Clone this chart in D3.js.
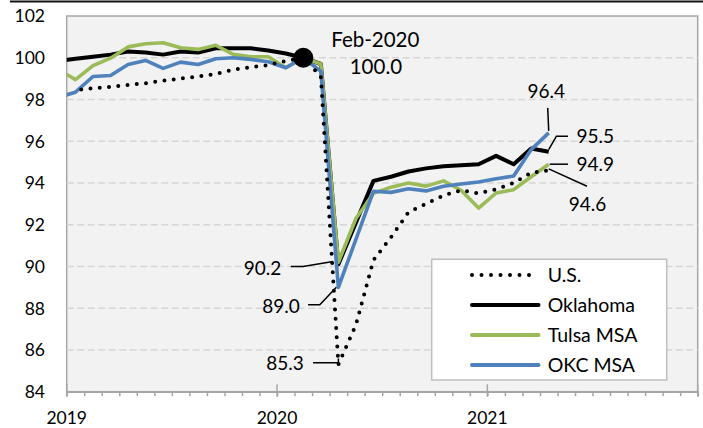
<!DOCTYPE html>
<html>
<head>
<meta charset="utf-8">
<script src="https://cdn.jsdelivr.net/npm/d3@7"></script>
<style>
  html, body { margin: 0; padding: 0; background: #ffffff; }
  svg { display: block; font-family: Lato, "Open Sans", sans-serif; }
</style>
</head>
<body>
<svg id="chart" width="703" height="428"></svg>
<script>
// ---------- DATA ----------
// monthly observations, Dec 2018 .. Apr 2021 (index Feb 2020 = 100)
const months = ["2018-12",
  "2019-01","2019-02","2019-03","2019-04","2019-05","2019-06","2019-07","2019-08","2019-09","2019-10","2019-11","2019-12",
  "2020-01","2020-02","2020-03","2020-04","2020-05","2020-06","2020-07","2020-08","2020-09","2020-10","2020-11","2020-12",
  "2021-01","2021-02","2021-03","2021-04"];
const usValues = [null,
  98.45, 98.54, 98.61, 98.70, 98.78, 98.90, 99.00, 99.10, 99.22, 99.43, 99.55, 99.65,
  99.85, 100.0, 99.10, 85.3, 87.2, 90.3, 91.4, 92.6, 93.0, 93.4, 93.65, 93.5,
  93.7, 94.0, 94.5, 94.6];
const oklahomaValues = [99.85,
  99.95, 100.05, 100.15, 100.30, 100.25, 100.15, 100.30, 100.25, 100.45, 100.45, 100.45, 100.35,
  100.2, 100.0, 99.7, 90.1, 92.1, 94.1, 94.3, 94.55, 94.7, 94.8, 94.85, 94.9,
  95.3, 94.9, 95.65, 95.5];
const tulsaValues = [99.45,
  98.95, 99.62, 99.98, 100.52, 100.67, 100.72, 100.48, 100.40, 100.60, 100.16, 100.05, 100.05,
  99.52, 100.0, 99.7, 90.2, 92.3, 93.5, 93.8, 94.0, 93.85, 94.1, 93.65, 92.8,
  93.52, 93.68, 94.3, 94.9];
const okcValues = [98.1,
  98.35, 99.10, 99.15, 99.68, 99.87, 99.49, 99.79, 99.68, 99.95, 100.0, 99.92, 99.81,
  99.52, 100.0, 99.35, 89.0, 91.3, 93.6, 93.55, 93.72, 93.62, 93.84, 93.95, 94.05,
  94.2, 94.33, 95.6, 96.4];
const seriesNames = ["U.S.", "Oklahoma", "Tulsa MSA", "OKC MSA"];
const yTicks = [84, 86, 88, 90, 92, 94, 96, 98, 100, 102];
const yearLabels = ["2019", "2020", "2021"];
const peakLabel = ["Feb-2020", "100.0"];
const peakMonth = "2020-02";
// value labels: [series, month, text]
const valueLabels = [
  ["OKC MSA", "2021-04", "96.4"],
  ["Oklahoma", "2021-04", "95.5"],
  ["Tulsa MSA", "2021-04", "94.9"],
  ["U.S.", "2021-04", "94.6"],
  ["Tulsa MSA", "2020-04", "90.2"],
  ["OKC MSA", "2020-04", "89.0"],
  ["U.S.", "2020-04", "85.3"]
];

// ---------- LAYOUT ----------
const W = 703, H = 428;
const plot = { left: 66.7, right: 697.7, top: 16, bottom: 391.7 };
const svg = d3.select("#chart");

const monthIndex = m => { const [y, mo] = m.split("-").map(Number); return (y - 2019) * 12 + (mo - 1); };
const x = d3.scaleLinear().domain([0, 36]).range([plot.left, plot.right]);
const y = d3.scaleLinear().domain([84, 102]).range([plot.bottom, plot.top]);
const xm = m => x(monthIndex(m) + 0.5);

const series = [
  { name: "U.S.", values: usValues, color: "#000000", width: 4, dotted: true },
  { name: "Oklahoma", values: oklahomaValues, color: "#000000", width: 4, dotted: false },
  { name: "Tulsa MSA", values: tulsaValues, color: "#9bbb59", width: 3.6, dotted: false },
  { name: "OKC MSA", values: okcValues, color: "#4f81bd", width: 3.6, dotted: false }
];
const byName = Object.fromEntries(series.map(s => [s.name, s]));

// top rule
svg.append("line").attr("x1", 10).attr("x2", W).attr("y1", 1.5).attr("y2", 1.5)
  .attr("stroke", "#141414").attr("stroke-width", 2);

// plot background
svg.append("rect").attr("x", plot.left).attr("y", plot.top)
  .attr("width", plot.right - plot.left).attr("height", plot.bottom - plot.top)
  .attr("fill", "#f2f2f2").attr("stroke", "#a6a6a6").attr("stroke-width", 1.5);

// gridlines
svg.append("g").selectAll("line").data(yTicks.filter(v => v > 84 && v < 102)).join("line")
  .attr("x1", plot.left).attr("x2", plot.right)
  .attr("y1", d => y(d)).attr("y2", d => y(d))
  .attr("stroke", "#d6d6d6").attr("stroke-width", 1.5).attr("stroke-dasharray", "7,3.5");

// y labels
svg.append("g").selectAll("text").data(yTicks).join("text")
  .attr("x", 45).attr("y", d => y(d)).attr("dy", "0.36em")
  .attr("text-anchor", "end").attr("font-size", 17.5).attr("fill", "#000")
  .text(d => d);

// x axis: minor monthly ticks
const axisG = svg.append("g").attr("transform", `translate(0,${plot.bottom})`);
axisG.call(d3.axisBottom(x).tickValues(d3.range(0, 37)).tickSize(4.5).tickFormat(""));
axisG.select(".domain").attr("stroke", "#a6a6a6").attr("stroke-width", 1.8);
axisG.selectAll(".tick line").attr("stroke", "#a6a6a6").attr("stroke-width", 1.5);
// major year ticks
svg.append("g").selectAll("line").data([0, 12, 24, 36]).join("line")
  .attr("x1", d => x(d)).attr("x2", d => x(d))
  .attr("y1", plot.bottom - 7.5).attr("y2", plot.bottom + 5)
  .attr("stroke", "#a6a6a6").attr("stroke-width", 1.5);
svg.append("g").selectAll("text").data(yearLabels).join("text")
  .attr("x", (d, i) => x(i * 12)).attr("y", 418).attr("dy", "0.36em")
  .attr("text-anchor", "middle").attr("font-size", 17.5).attr("fill", "#000")
  .text(d => d);

// clip
svg.append("clipPath").attr("id", "clip").append("rect")
  .attr("x", plot.left).attr("y", plot.top - 12)
  .attr("width", plot.right - plot.left).attr("height", plot.bottom - plot.top + 12);

const line = d3.line()
  .defined(d => d.v != null)
  .x(d => xm(d.m)).y(d => y(d.v));

const linesG = svg.append("g").attr("clip-path", "url(#clip)");
const drawOrder = ["Oklahoma", "Tulsa MSA", "OKC MSA", "U.S."];
drawOrder.forEach(n => {
  const s = byName[n];
  const pts = months.map((m, i) => ({ m, v: s.values[i] }));
  const p = linesG.append("path").datum(pts).attr("d", line)
    .attr("fill", "none").attr("stroke", s.color).attr("stroke-width", s.width)
    .attr("stroke-linejoin", "round");
  if (s.dotted) {
    p.attr("stroke-dasharray", "0,9.3").attr("stroke-linecap", "round").attr("stroke-dashoffset", 3.5);
  }
});

// peak marker
const peakI = months.indexOf(peakMonth);
const px0 = xm(peakMonth), py0 = y(oklahomaValues[peakI]);
svg.append("circle").attr("cx", px0).attr("cy", py0).attr("r", 10).attr("fill", "#000");
svg.append("text").attr("x", px0 + 72).attr("y", py0 - 10.6).attr("text-anchor", "middle")
  .attr("font-size", 20.5).text(peakLabel[0]);
svg.append("text").attr("x", px0 + 72.6).attr("y", py0 + 16.7).attr("text-anchor", "middle")
  .attr("font-size", 20.5).text(peakLabel[1]);

// value labels with leader lines (offsets relative to the data point)
const labelLayout = {
  "96.4": { anchor: "middle", dx: -2.5, dy: -35, leader: [[-1, -25], [0, -2]] },
  "95.5": { anchor: "start", dx: 27.7, dy: -8.2, leader: [[0, -2], [7.7, -15.5], [19.3, -15.5]] },
  "94.9": { anchor: "start", dx: 27.7, dy: 7, leader: [[1, 0], [19.3, 0]] },
  "94.6": { anchor: "start", dx: 20, dy: 40.8, leader: [[0, -1.6], [38.3, 15.8]] },
  "90.2": { anchor: "end", dx: -57, dy: 13.2, leader: [[-47.6, 4.2], [-35.3, 4.2], [-5.3, -0.8]] },
  "89.0": { anchor: "end", dx: -38.6, dy: 25.8, leader: [[-30.3, 17.5], [-18.6, 17.5], [-2, 0]] },
  "85.3": { anchor: "end", dx: -34.6, dy: 5.4, leader: [[-25.3, -1.9], [0, -1.9], [0, -6]] }
};
const labG = svg.append("g");
valueLabels.forEach(([sn, m, t]) => {
  const s = byName[sn];
  const v = s.values[months.indexOf(m)];
  const px = xm(m), py = y(v);
  const L = labelLayout[t];
  labG.append("path")
    .attr("d", d3.line()(L.leader.map(([a, b]) => [px + a, py + b])))
    .attr("fill", "none").attr("stroke", "#000").attr("stroke-width", 1.5);
  labG.append("text").attr("x", px + L.dx).attr("y", py + L.dy)
    .attr("text-anchor", L.anchor).attr("font-size", 19).text(t);
});

// legend
const lg = svg.append("g");
lg.append("rect").attr("x", 431.7).attr("y", 259.3).attr("width", 235).attr("height", 120.7)
  .attr("fill", "#ffffff").attr("stroke", "#bfbfbf").attr("stroke-width", 1.5);
series.forEach((s, i) => {
  const ly = 275 + i * 30;
  const l = lg.append("line").attr("x1", 472).attr("x2", 538.5).attr("y1", ly).attr("y2", ly)
    .attr("stroke", s.color).attr("stroke-width", 4).attr("stroke-linecap", "round");
  if (s.dotted) l.attr("stroke-dasharray", "0,9.5");
  lg.append("text").attr("x", 547.7).attr("y", ly).attr("dy", "0.36em")
    .attr("font-size", 19.5).text(seriesNames[i]);
});
</script>
</body>
</html>
